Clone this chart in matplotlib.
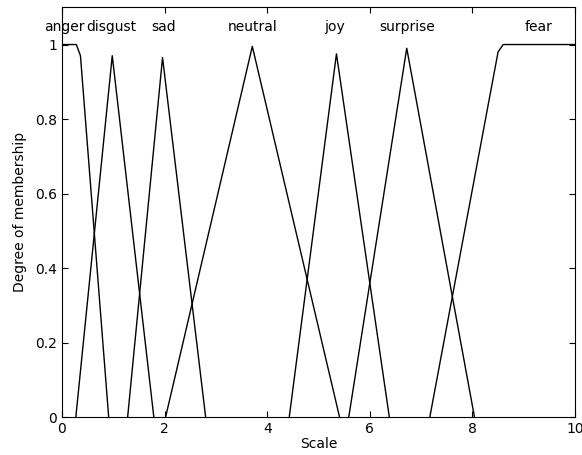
"""
Fuzzy membership functions for the emotion scale
"""

import matplotlib
matplotlib.use('Agg')
import matplotlib.pyplot as plt

plt.rcParams['font.family'] = ['DejaVu Sans']

# membership function break points
labels = ['anger', 'disgust', 'sad', 'neutral', 'joy', 'surprise', 'fear']
label_x = [0.05, 0.96, 1.99, 3.71, 5.32, 6.73, 9.28]

anger_x = [0, 0.28, 0.36, 0.91]
anger_y = [1, 1, 0.97, 0]
disgust_x = [0.27, 0.98, 1.79]
disgust_y = [0, 0.97, 0]
sad_x = [1.28, 1.96, 2.80]
sad_y = [0, 0.965, 0]
neutral_x = [2.02, 3.71, 5.41]
neutral_y = [0, 0.995, 0]
joy_x = [4.43, 5.35, 6.38]
joy_y = [0, 0.975, 0]
surprise_x = [5.59, 6.72, 8.04]
surprise_y = [0, 0.99, 0]
fear_x = [7.17, 8.50, 8.60, 10]
fear_y = [0, 0.98, 1, 1]

curves = [(anger_x, anger_y), (disgust_x, disgust_y), (sad_x, sad_y),
          (neutral_x, neutral_y), (joy_x, joy_y), (surprise_x, surprise_y),
          (fear_x, fear_y)]

fig = plt.figure(figsize=(5.82, 4.55), dpi=100)
ax = fig.add_axes([0.1065, 0.0835, 0.8815, 0.9005])

for xs, ys in curves:
    ax.plot(xs, ys, color='black', linewidth=1)

for name, lx in zip(labels, label_x):
    ax.text(lx, 1.047, name, ha='center', va='center', fontsize=10)

ax.set_xlim(0, 10)
ax.set_ylim(0, 1.1)
ax.set_xticks([0, 2, 4, 6, 8, 10])
ax.set_yticks([0, 0.2, 0.4, 0.6, 0.8, 1])
ax.set_yticklabels(['0', '0.2', '0.4', '0.6', '0.8', '1'])
ax.tick_params(direction='in', top=True, right=True, length=4, labelsize=10)
ax.set_xlabel('Scale', fontsize=10, labelpad=1)
ax.set_ylabel('Degree of membership', fontsize=10, labelpad=6)

fig.savefig('out.png', dpi=100)
